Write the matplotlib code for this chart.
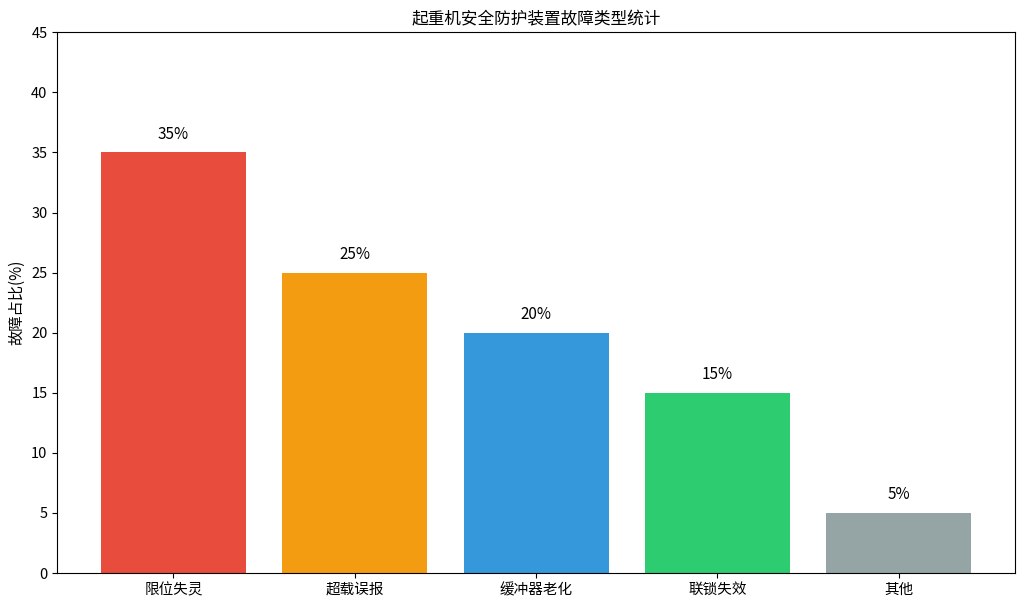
import matplotlib.pyplot as plt

plt.rcParams['font.family'] = ['Noto Sans CJK SC', 'DejaVu Sans']

# data
categories = ["限位失灵", "超载误报", "缓冲器老化", "联锁失效", "其他"]
values = [35, 25, 20, 15, 5]
colors = ["#e74c3c", "#f39c12", "#3498db", "#2ecc71", "#95a5a6"]

fig = plt.figure(figsize=(10.24, 6.09), dpi=100)
ax = fig.add_axes([0.056, 0.059, 0.935, 0.888])

bars = ax.bar(categories, values, color=colors, width=0.8)
for b, v in zip(bars, values):
    ax.text(b.get_x() + b.get_width() / 2, v + 0.8, f"{v}%",
            ha="center", va="bottom", fontsize=11)

ax.set_ylim(0, 45)
ax.set_yticks(range(0, 46, 5))
ax.set_ylabel("故障占比(%)", fontsize=11)
ax.set_title("起重机安全防护装置故障类型统计", fontsize=12)
ax.tick_params(labelsize=10.5)

fig.savefig("out.png", dpi=100)
